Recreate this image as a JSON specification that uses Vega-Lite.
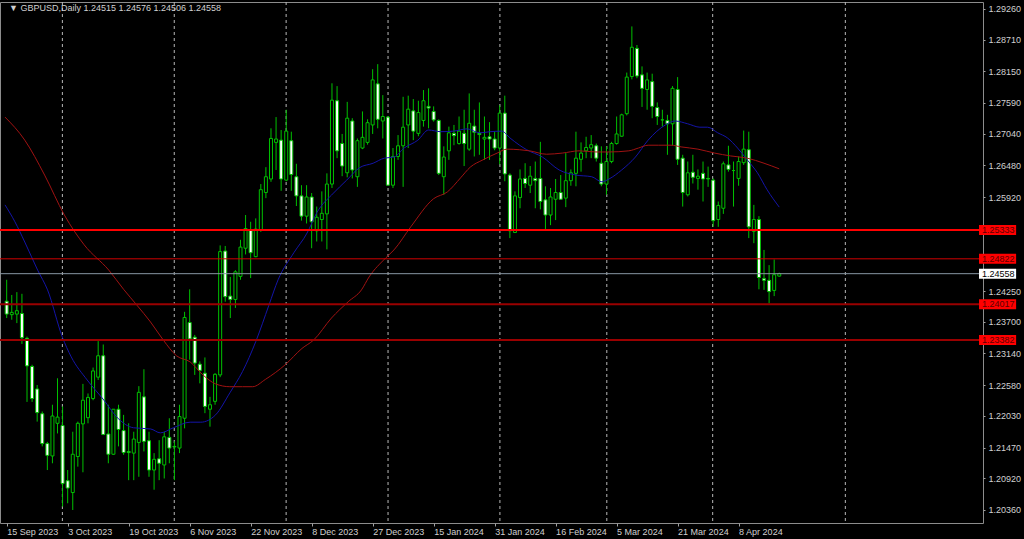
{
  "$schema": "https://vega.github.io/schema/vega-lite/v6.json",
  "width": 983,
  "height": 521,
  "autosize": {"type": "none"},
  "padding": {"left": 0, "top": 2, "right": 41, "bottom": 16},
  "background": "#000000",
  "config": {
    "view": {"stroke": "#8c8c8c", "strokeWidth": 1},
    "font": "Liberation Sans"
  },
  "resolve": {"axis": {"x": "independent", "y": "independent"}},
  "datasets": {
    "grid": [{"g": 10.96}, {"g": 32.97}, {"g": 54.98}, {"g": 75.03}, {"g": 97.04}, {"g": 118.07}, {"g": 138.9}, {"g": 165.0}],
    "levels": [
      {"p": 1.25333, "k": "a"},
      {"p": 1.24822, "k": "b"},
      {"p": 1.24558, "k": "cur"},
      {"p": 1.24017, "k": "c"},
      {"p": 1.23382, "k": "d"}
    ],
    "ma": [
      {"i": -0.33, "v": 1.2578, "m": "fast"}, {"i": 1.62, "v": 1.2548, "m": "fast"}, {"i": 3.56, "v": 1.2512, "m": "fast"}, {"i": 6.1, "v": 1.2462, "m": "fast"}, {"i": 8.04, "v": 1.2427, "m": "fast"}, {"i": 10.96, "v": 1.2343, "m": "fast"}, {"i": 12.7, "v": 1.2308, "m": "fast"}, {"i": 15.83, "v": 1.2267, "m": "fast"}, {"i": 19.14, "v": 1.2231, "m": "fast"}, {"i": 21.67, "v": 1.2201, "m": "fast"}, {"i": 24.98, "v": 1.2182, "m": "fast"}, {"i": 28.3, "v": 1.218, "m": "fast"}, {"i": 30.24, "v": 1.2173, "m": "fast"}, {"i": 32.77, "v": 1.2182, "m": "fast"}, {"i": 36.1, "v": 1.2192, "m": "fast"}, {"i": 38.2, "v": 1.2192, "m": "fast"}, {"i": 41.1, "v": 1.2205, "m": "fast"}, {"i": 43.9, "v": 1.2244, "m": "fast"}, {"i": 46.4, "v": 1.2282, "m": "fast"}, {"i": 49.0, "v": 1.2335, "m": "fast"}, {"i": 51.6, "v": 1.24, "m": "fast"}, {"i": 53.4, "v": 1.2445, "m": "fast"}, {"i": 56.5, "v": 1.2493, "m": "fast"}, {"i": 59.1, "v": 1.2528, "m": "fast"}, {"i": 61.0, "v": 1.2564, "m": "fast"}, {"i": 64.3, "v": 1.2599, "m": "fast"}, {"i": 66.9, "v": 1.2622, "m": "fast"}, {"i": 69.4, "v": 1.2644, "m": "fast"}, {"i": 72.1, "v": 1.2652, "m": "fast"}, {"i": 74.3, "v": 1.2661, "m": "fast"}, {"i": 76.2, "v": 1.2663, "m": "fast"}, {"i": 78.2, "v": 1.2679, "m": "fast"}, {"i": 80.9, "v": 1.2693, "m": "fast"}, {"i": 83.0, "v": 1.2711, "m": "fast"}, {"i": 85.4, "v": 1.2708, "m": "fast"}, {"i": 87.9, "v": 1.2709, "m": "fast"}, {"i": 90.6, "v": 1.2713, "m": "fast"}, {"i": 93.1, "v": 1.2706, "m": "fast"}, {"i": 95.1, "v": 1.2708, "m": "fast"}, {"i": 97.4, "v": 1.2709, "m": "fast"}, {"i": 99.0, "v": 1.2697, "m": "fast"}, {"i": 100.9, "v": 1.2684, "m": "fast"}, {"i": 102.3, "v": 1.2676, "m": "fast"}, {"i": 105.4, "v": 1.2663, "m": "fast"}, {"i": 108.7, "v": 1.264, "m": "fast"}, {"i": 112.0, "v": 1.2631, "m": "fast"}, {"i": 115.1, "v": 1.2628, "m": "fast"}, {"i": 117.1, "v": 1.2619, "m": "fast"}, {"i": 118.5, "v": 1.2624, "m": "fast"}, {"i": 121.0, "v": 1.264, "m": "fast"}, {"i": 123.7, "v": 1.2663, "m": "fast"}, {"i": 126.2, "v": 1.2693, "m": "fast"}, {"i": 129.6, "v": 1.272, "m": "fast"}, {"i": 131.5, "v": 1.2727, "m": "fast"}, {"i": 134.0, "v": 1.2722, "m": "fast"}, {"i": 136.4, "v": 1.2716, "m": "fast"}, {"i": 137.9, "v": 1.2716, "m": "fast"}, {"i": 139.9, "v": 1.2706, "m": "fast"}, {"i": 141.8, "v": 1.2697, "m": "fast"}, {"i": 143.8, "v": 1.2679, "m": "fast"}, {"i": 145.7, "v": 1.2658, "m": "fast"}, {"i": 147.7, "v": 1.2635, "m": "fast"}, {"i": 149.6, "v": 1.2605, "m": "fast"}, {"i": 152.0, "v": 1.2574, "m": "fast"},
      {"i": -0.33, "v": 1.2734, "m": "slow"}, {"i": 3.56, "v": 1.2693, "m": "slow"}, {"i": 7.46, "v": 1.2631, "m": "slow"}, {"i": 11.35, "v": 1.256, "m": "slow"}, {"i": 15.25, "v": 1.2507, "m": "slow"}, {"i": 20.1, "v": 1.2462, "m": "slow"}, {"i": 23.0, "v": 1.2428, "m": "slow"}, {"i": 25.6, "v": 1.24, "m": "slow"}, {"i": 28.3, "v": 1.237, "m": "slow"}, {"i": 30.8, "v": 1.2338, "m": "slow"}, {"i": 33.4, "v": 1.231, "m": "slow"}, {"i": 36.1, "v": 1.2299, "m": "slow"}, {"i": 38.6, "v": 1.2276, "m": "slow"}, {"i": 41.1, "v": 1.226, "m": "slow"}, {"i": 43.9, "v": 1.2255, "m": "slow"}, {"i": 46.4, "v": 1.2255, "m": "slow"}, {"i": 48.4, "v": 1.2255, "m": "slow"}, {"i": 50.9, "v": 1.2268, "m": "slow"}, {"i": 54.8, "v": 1.2294, "m": "slow"}, {"i": 58.1, "v": 1.2323, "m": "slow"}, {"i": 60.4, "v": 1.2338, "m": "slow"}, {"i": 63.9, "v": 1.2377, "m": "slow"}, {"i": 67.2, "v": 1.2406, "m": "slow"}, {"i": 69.8, "v": 1.2427, "m": "slow"}, {"i": 71.3, "v": 1.245, "m": "slow"}, {"i": 74.6, "v": 1.2484, "m": "slow"}, {"i": 76.2, "v": 1.2498, "m": "slow"}, {"i": 79.5, "v": 1.2539, "m": "slow"}, {"i": 84.0, "v": 1.2589, "m": "slow"}, {"i": 86.7, "v": 1.2601, "m": "slow"}, {"i": 89.3, "v": 1.2626, "m": "slow"}, {"i": 91.2, "v": 1.2645, "m": "slow"}, {"i": 93.7, "v": 1.2658, "m": "slow"}, {"i": 96.5, "v": 1.267, "m": "slow"}, {"i": 98.4, "v": 1.2677, "m": "slow"}, {"i": 100.9, "v": 1.2676, "m": "slow"}, {"i": 102.9, "v": 1.2674, "m": "slow"}, {"i": 106.2, "v": 1.2668, "m": "slow"}, {"i": 109.3, "v": 1.267, "m": "slow"}, {"i": 112.6, "v": 1.2674, "m": "slow"}, {"i": 115.9, "v": 1.2672, "m": "slow"}, {"i": 118.5, "v": 1.2672, "m": "slow"}, {"i": 122.4, "v": 1.2674, "m": "slow"}, {"i": 124.3, "v": 1.2679, "m": "slow"}, {"i": 126.2, "v": 1.2684, "m": "slow"}, {"i": 128.2, "v": 1.2684, "m": "slow"}, {"i": 130.7, "v": 1.2684, "m": "slow"}, {"i": 132.7, "v": 1.2681, "m": "slow"}, {"i": 136.0, "v": 1.2677, "m": "slow"}, {"i": 139.3, "v": 1.267, "m": "slow"}, {"i": 142.4, "v": 1.2665, "m": "slow"}, {"i": 145.7, "v": 1.2661, "m": "slow"}, {"i": 149.0, "v": 1.2652, "m": "slow"}, {"i": 152.0, "v": 1.2642, "m": "slow"}
    ],
    "candles": [
      {"i": 0, "o": 1.2407, "h": 1.2445, "l": 1.2377, "c": 1.2384},
      {"i": 1, "o": 1.2383, "h": 1.2418, "l": 1.2374, "c": 1.2387},
      {"i": 2, "o": 1.2384, "h": 1.2423, "l": 1.2368, "c": 1.239},
      {"i": 3, "o": 1.2385, "h": 1.242, "l": 1.2331, "c": 1.2342},
      {"i": 4, "o": 1.2341, "h": 1.2344, "l": 1.2228, "c": 1.2292},
      {"i": 5, "o": 1.2291, "h": 1.2294, "l": 1.2228, "c": 1.2234},
      {"i": 6, "o": 1.2251, "h": 1.2258, "l": 1.2193, "c": 1.2209},
      {"i": 7, "o": 1.2207, "h": 1.2211, "l": 1.2149, "c": 1.2154},
      {"i": 8, "o": 1.2154, "h": 1.2157, "l": 1.2107, "c": 1.2133},
      {"i": 9, "o": 1.2132, "h": 1.2223, "l": 1.2119, "c": 1.2203},
      {"i": 10, "o": 1.219, "h": 1.227, "l": 1.2172, "c": 1.2201},
      {"i": 11, "o": 1.2186, "h": 1.222, "l": 1.2042, "c": 1.2083},
      {"i": 12, "o": 1.2088, "h": 1.2107, "l": 1.2048, "c": 1.2075},
      {"i": 13, "o": 1.2067, "h": 1.2175, "l": 1.2036, "c": 1.2135},
      {"i": 14, "o": 1.2131, "h": 1.2193, "l": 1.2113, "c": 1.219},
      {"i": 15, "o": 1.2189, "h": 1.226, "l": 1.2103, "c": 1.2231},
      {"i": 16, "o": 1.22, "h": 1.2243, "l": 1.219, "c": 1.2236},
      {"i": 17, "o": 1.2234, "h": 1.2289, "l": 1.2231, "c": 1.2283},
      {"i": 18, "o": 1.2272, "h": 1.2336, "l": 1.2267, "c": 1.231},
      {"i": 19, "o": 1.231, "h": 1.233, "l": 1.217, "c": 1.217},
      {"i": 20, "o": 1.2171, "h": 1.2223, "l": 1.2119, "c": 1.2135},
      {"i": 21, "o": 1.2135, "h": 1.2215, "l": 1.2134, "c": 1.2215},
      {"i": 22, "o": 1.2215, "h": 1.2223, "l": 1.2149, "c": 1.2179},
      {"i": 23, "o": 1.2177, "h": 1.2205, "l": 1.2134, "c": 1.2138},
      {"i": 24, "o": 1.214, "h": 1.219, "l": 1.2089, "c": 1.2138},
      {"i": 25, "o": 1.2137, "h": 1.2175, "l": 1.2089, "c": 1.2162},
      {"i": 26, "o": 1.2156, "h": 1.2256, "l": 1.2095, "c": 1.2245},
      {"i": 27, "o": 1.2237, "h": 1.2286, "l": 1.214, "c": 1.2158},
      {"i": 28, "o": 1.2159, "h": 1.2175, "l": 1.2095, "c": 1.2107},
      {"i": 29, "o": 1.2107, "h": 1.2137, "l": 1.2072, "c": 1.2126},
      {"i": 30, "o": 1.2127, "h": 1.216, "l": 1.2089, "c": 1.2119},
      {"i": 31, "o": 1.2116, "h": 1.2175, "l": 1.2092, "c": 1.2166},
      {"i": 32, "o": 1.2165, "h": 1.2199, "l": 1.2119, "c": 1.2146},
      {"i": 33, "o": 1.2149, "h": 1.2158, "l": 1.2089, "c": 1.2148},
      {"i": 34, "o": 1.2146, "h": 1.2223, "l": 1.2137, "c": 1.2202},
      {"i": 35, "o": 1.2199, "h": 1.2388, "l": 1.2181, "c": 1.2378},
      {"i": 36, "o": 1.2369, "h": 1.2428, "l": 1.2303, "c": 1.234},
      {"i": 37, "o": 1.2343, "h": 1.2347, "l": 1.2276, "c": 1.2297},
      {"i": 38, "o": 1.2295, "h": 1.23, "l": 1.2261, "c": 1.2284},
      {"i": 39, "o": 1.2279, "h": 1.2307, "l": 1.2208, "c": 1.222},
      {"i": 40, "o": 1.2215, "h": 1.2237, "l": 1.2184, "c": 1.2223},
      {"i": 41, "o": 1.2229, "h": 1.2279, "l": 1.2223, "c": 1.2277},
      {"i": 42, "o": 1.2276, "h": 1.2506, "l": 1.2272, "c": 1.2495},
      {"i": 43, "o": 1.2496, "h": 1.2505, "l": 1.2406, "c": 1.2415},
      {"i": 44, "o": 1.2416, "h": 1.245, "l": 1.2377, "c": 1.241},
      {"i": 45, "o": 1.241, "h": 1.2462, "l": 1.2395, "c": 1.2459},
      {"i": 46, "o": 1.2451, "h": 1.2516, "l": 1.2445, "c": 1.2503},
      {"i": 47, "o": 1.2501, "h": 1.256, "l": 1.249, "c": 1.2536},
      {"i": 48, "o": 1.2534, "h": 1.2548, "l": 1.2448, "c": 1.2493},
      {"i": 49, "o": 1.2486, "h": 1.2554, "l": 1.2485, "c": 1.2535},
      {"i": 50, "o": 1.2534, "h": 1.2615, "l": 1.253, "c": 1.2605},
      {"i": 51, "o": 1.26, "h": 1.2645, "l": 1.259, "c": 1.2628},
      {"i": 52, "o": 1.2624, "h": 1.2714, "l": 1.2619, "c": 1.2696},
      {"i": 53, "o": 1.2689, "h": 1.2734, "l": 1.264, "c": 1.2695},
      {"i": 54, "o": 1.2693, "h": 1.2711, "l": 1.2603, "c": 1.2624},
      {"i": 55, "o": 1.2622, "h": 1.2747, "l": 1.262, "c": 1.2709},
      {"i": 56, "o": 1.2692, "h": 1.2708, "l": 1.2603, "c": 1.2632},
      {"i": 57, "o": 1.2628, "h": 1.2651, "l": 1.2576, "c": 1.2594},
      {"i": 58, "o": 1.2594, "h": 1.2613, "l": 1.255, "c": 1.2558},
      {"i": 59, "o": 1.2558, "h": 1.2613, "l": 1.2545, "c": 1.2592},
      {"i": 60, "o": 1.2592, "h": 1.2599, "l": 1.2501, "c": 1.2548},
      {"i": 61, "o": 1.2532, "h": 1.2575, "l": 1.2513, "c": 1.2556},
      {"i": 62, "o": 1.2552, "h": 1.2602, "l": 1.2513, "c": 1.2563},
      {"i": 63, "o": 1.2562, "h": 1.2634, "l": 1.2499, "c": 1.2615},
      {"i": 64, "o": 1.2615, "h": 1.2794, "l": 1.2608, "c": 1.2764},
      {"i": 65, "o": 1.2763, "h": 1.2789, "l": 1.2661, "c": 1.2674},
      {"i": 66, "o": 1.2687, "h": 1.2704, "l": 1.2629, "c": 1.2647},
      {"i": 67, "o": 1.2635, "h": 1.2761, "l": 1.2627, "c": 1.2732},
      {"i": 68, "o": 1.2727, "h": 1.2732, "l": 1.2625, "c": 1.264},
      {"i": 69, "o": 1.2628, "h": 1.2696, "l": 1.261, "c": 1.2692},
      {"i": 70, "o": 1.2679, "h": 1.2744, "l": 1.2677, "c": 1.2698},
      {"i": 71, "o": 1.2689, "h": 1.273, "l": 1.2685, "c": 1.2724},
      {"i": 72, "o": 1.272, "h": 1.2819, "l": 1.2704, "c": 1.28},
      {"i": 73, "o": 1.2793, "h": 1.2828, "l": 1.2714, "c": 1.273},
      {"i": 74, "o": 1.2727, "h": 1.2773, "l": 1.2696, "c": 1.2735},
      {"i": 75, "o": 1.2734, "h": 1.2736, "l": 1.2612, "c": 1.2613},
      {"i": 76, "o": 1.2613, "h": 1.2679, "l": 1.2608, "c": 1.2664},
      {"i": 77, "o": 1.2664, "h": 1.2702, "l": 1.2658, "c": 1.2683},
      {"i": 78, "o": 1.2683, "h": 1.277, "l": 1.261, "c": 1.2716},
      {"i": 79, "o": 1.272, "h": 1.2772, "l": 1.2679, "c": 1.2748},
      {"i": 80, "o": 1.2745, "h": 1.2766, "l": 1.2693, "c": 1.2709},
      {"i": 81, "o": 1.2705, "h": 1.2763, "l": 1.27, "c": 1.2742},
      {"i": 82, "o": 1.2728, "h": 1.2782, "l": 1.2717, "c": 1.2763},
      {"i": 83, "o": 1.2753, "h": 1.2785, "l": 1.2714, "c": 1.275},
      {"i": 84, "o": 1.2744, "h": 1.2753, "l": 1.2726, "c": 1.2729},
      {"i": 85, "o": 1.2728, "h": 1.273, "l": 1.2631, "c": 1.2634},
      {"i": 86, "o": 1.2628, "h": 1.2682, "l": 1.2596, "c": 1.2663},
      {"i": 87, "o": 1.2674, "h": 1.2717, "l": 1.2658, "c": 1.2706},
      {"i": 88, "o": 1.2705, "h": 1.272, "l": 1.2684, "c": 1.2701},
      {"i": 89, "o": 1.2687, "h": 1.2735, "l": 1.2685, "c": 1.2709},
      {"i": 90, "o": 1.2705, "h": 1.2747, "l": 1.2647, "c": 1.2687},
      {"i": 91, "o": 1.2677, "h": 1.2776, "l": 1.2674, "c": 1.2723},
      {"i": 92, "o": 1.2718, "h": 1.2747, "l": 1.2664, "c": 1.2707},
      {"i": 93, "o": 1.2705, "h": 1.276, "l": 1.2667, "c": 1.2703},
      {"i": 94, "o": 1.2695, "h": 1.2735, "l": 1.2658, "c": 1.2698},
      {"i": 95, "o": 1.2699, "h": 1.2725, "l": 1.2658, "c": 1.2695},
      {"i": 96, "o": 1.2695, "h": 1.2708, "l": 1.2675, "c": 1.2679},
      {"i": 97, "o": 1.2679, "h": 1.2755, "l": 1.265, "c": 1.2741},
      {"i": 98, "o": 1.2741, "h": 1.2772, "l": 1.262, "c": 1.2633},
      {"i": 99, "o": 1.2631, "h": 1.2634, "l": 1.2519, "c": 1.2532},
      {"i": 100, "o": 1.2529, "h": 1.2602, "l": 1.2528, "c": 1.2594},
      {"i": 101, "o": 1.2591, "h": 1.2641, "l": 1.2572, "c": 1.2624},
      {"i": 102, "o": 1.2625, "h": 1.2652, "l": 1.2608, "c": 1.2616},
      {"i": 103, "o": 1.2613, "h": 1.2647, "l": 1.2599, "c": 1.2629},
      {"i": 104, "o": 1.2625, "h": 1.2655, "l": 1.2572, "c": 1.2621},
      {"i": 105, "o": 1.2625, "h": 1.269, "l": 1.257, "c": 1.2584},
      {"i": 106, "o": 1.2587, "h": 1.2611, "l": 1.2532, "c": 1.256},
      {"i": 107, "o": 1.256, "h": 1.2608, "l": 1.2542, "c": 1.2592},
      {"i": 108, "o": 1.2588, "h": 1.2624, "l": 1.2551, "c": 1.26},
      {"i": 109, "o": 1.26, "h": 1.2631, "l": 1.2587, "c": 1.2588},
      {"i": 110, "o": 1.259, "h": 1.267, "l": 1.2574, "c": 1.2621},
      {"i": 111, "o": 1.2621, "h": 1.2641, "l": 1.2612, "c": 1.2635},
      {"i": 112, "o": 1.2634, "h": 1.2708, "l": 1.2611, "c": 1.2661},
      {"i": 113, "o": 1.2659, "h": 1.2689, "l": 1.2637, "c": 1.267},
      {"i": 114, "o": 1.2674, "h": 1.2699, "l": 1.2661, "c": 1.268},
      {"i": 115, "o": 1.2679, "h": 1.2702, "l": 1.2661, "c": 1.2685},
      {"i": 116, "o": 1.2683, "h": 1.2687, "l": 1.2655, "c": 1.2661},
      {"i": 117, "o": 1.2652, "h": 1.2682, "l": 1.2611, "c": 1.2615},
      {"i": 118, "o": 1.2615, "h": 1.2682, "l": 1.2596, "c": 1.2655},
      {"i": 119, "o": 1.2655, "h": 1.269, "l": 1.2652, "c": 1.2687},
      {"i": 120, "o": 1.2687, "h": 1.2735, "l": 1.2685, "c": 1.2704},
      {"i": 121, "o": 1.27, "h": 1.274, "l": 1.2699, "c": 1.2738},
      {"i": 122, "o": 1.274, "h": 1.2813, "l": 1.2737, "c": 1.2805},
      {"i": 123, "o": 1.2806, "h": 1.2895, "l": 1.2801, "c": 1.2858},
      {"i": 124, "o": 1.2856, "h": 1.2862, "l": 1.2803, "c": 1.2807},
      {"i": 125, "o": 1.2809, "h": 1.2824, "l": 1.2752, "c": 1.2785},
      {"i": 126, "o": 1.2783, "h": 1.2813, "l": 1.2747, "c": 1.28},
      {"i": 127, "o": 1.2797, "h": 1.2811, "l": 1.2732, "c": 1.2753},
      {"i": 128, "o": 1.2751, "h": 1.276, "l": 1.272, "c": 1.2735},
      {"i": 129, "o": 1.2729, "h": 1.2747, "l": 1.2717, "c": 1.2729},
      {"i": 130, "o": 1.2728, "h": 1.2738, "l": 1.2667, "c": 1.2722},
      {"i": 131, "o": 1.2722, "h": 1.2789, "l": 1.2684, "c": 1.2785},
      {"i": 132, "o": 1.2783, "h": 1.2805, "l": 1.2649, "c": 1.2659},
      {"i": 133, "o": 1.2661, "h": 1.2667, "l": 1.2575, "c": 1.26},
      {"i": 134, "o": 1.2596, "h": 1.2655, "l": 1.2593, "c": 1.2635},
      {"i": 135, "o": 1.2636, "h": 1.2667, "l": 1.2616, "c": 1.2627},
      {"i": 136, "o": 1.2625, "h": 1.2641, "l": 1.2605, "c": 1.2629},
      {"i": 137, "o": 1.2634, "h": 1.2655, "l": 1.2584, "c": 1.2624},
      {"i": 138, "o": 1.2625, "h": 1.2646, "l": 1.261, "c": 1.2624},
      {"i": 139, "o": 1.2622, "h": 1.2625, "l": 1.2539, "c": 1.255},
      {"i": 140, "o": 1.2552, "h": 1.2584, "l": 1.2539, "c": 1.2577},
      {"i": 141, "o": 1.2572, "h": 1.2655, "l": 1.2562, "c": 1.2651},
      {"i": 142, "o": 1.2649, "h": 1.2683, "l": 1.2637, "c": 1.2641},
      {"i": 143, "o": 1.2639, "h": 1.2655, "l": 1.2575, "c": 1.2639},
      {"i": 144, "o": 1.2625, "h": 1.2664, "l": 1.2612, "c": 1.2655},
      {"i": 145, "o": 1.2653, "h": 1.271, "l": 1.2649, "c": 1.2677},
      {"i": 146, "o": 1.2676, "h": 1.2708, "l": 1.2519, "c": 1.2539},
      {"i": 147, "o": 1.2531, "h": 1.2578, "l": 1.251, "c": 1.2552},
      {"i": 148, "o": 1.2552, "h": 1.2558, "l": 1.2428, "c": 1.2449},
      {"i": 149, "o": 1.2447, "h": 1.2498, "l": 1.2427, "c": 1.2444},
      {"i": 150, "o": 1.2444, "h": 1.2471, "l": 1.2403, "c": 1.2424},
      {"i": 151, "o": 1.2426, "h": 1.2481, "l": 1.2416, "c": 1.2454},
      {"i": 152, "o": 1.24515, "h": 1.24576, "l": 1.24506, "c": 1.24558}
    ]
  },
  "layer": [
    {
      "data": {"name": "grid"},
      "mark": {"type": "rule", "color": "#b8b8b8", "strokeWidth": 1, "strokeDash": [3, 3]},
      "encoding": {
        "x": {"field": "g", "type": "quantitative", "scale": {"domain": [-0.331, 191.1], "nice": false, "zero": false}, "axis": null}
      }
    },
    {
      "data": {"name": "candles"},
      "mark": {"type": "rule", "color": "#00c000", "strokeWidth": 1},
      "encoding": {
        "x": {
          "field": "i", "type": "quantitative",
          "scale": {"domain": [-0.331, 191.1], "nice": false, "zero": false},
          "axis": {
            "orient": "bottom",
            "values": [0, 12, 24, 36, 48, 60, 72, 84, 96, 108, 120, 132, 144],
            "labelExpr": "datum.value == 0 ? '15 Sep 2023' : datum.value == 12 ? '3 Oct 2023' : datum.value == 24 ? '19 Oct 2023' : datum.value == 36 ? '6 Nov 2023' : datum.value == 48 ? '22 Nov 2023' : datum.value == 60 ? '8 Dec 2023' : datum.value == 72 ? '27 Dec 2023' : datum.value == 84 ? '15 Jan 2024' : datum.value == 96 ? '31 Jan 2024' : datum.value == 108 ? '16 Feb 2024' : datum.value == 120 ? '5 Mar 2024' : datum.value == 132 ? '21 Mar 2024' : '8 Apr 2024'",
            "labelAlign": "left",
            "labelBaseline": "top",
            "labelColor": "#d0d0d0",
            "labelFont": "Liberation Sans",
            "labelFontSize": 9,
            "labelPadding": 1,
            "labelOverlap": false,
            "labelFlush": false,
            "labelBound": false,
            "tickColor": "#a0a0a0",
            "tickSize": 3,
            "domain": false,
            "grid": false,
            "title": null
          }
        },
        "y": {
          "field": "l", "type": "quantitative",
          "scale": {"domain": [1.20129, 1.29384], "nice": false, "zero": false},
          "axis": {
            "orient": "right",
            "values": [1.2926, 1.2871, 1.2815, 1.2759, 1.2704, 1.2648, 1.2592, 1.2425, 1.237, 1.2314, 1.2258, 1.2203, 1.2147, 1.2092, 1.2036],
            "format": ".5f",
            "labelColor": "#d0d0d0",
            "labelFont": "Liberation Sans",
            "labelFontSize": 9,
            "labelPadding": 3,
            "labelBaseline": "middle",
            "labelOverlap": false,
            "labelFlush": false,
            "labelBound": false,
            "tickColor": "#a0a0a0",
            "tickSize": 2,
            "domain": false,
            "grid": false,
            "title": null
          }
        },
        "y2": {"field": "h"}
      }
    },
    {
      "data": {"name": "candles"},
      "mark": {"type": "bar", "width": 3, "stroke": "#00c000", "strokeWidth": 1},
      "encoding": {
        "x": {"field": "i", "type": "quantitative", "scale": {"domain": [-0.331, 191.1], "nice": false, "zero": false}, "axis": null},
        "y": {"field": "o", "type": "quantitative", "scale": {"domain": [1.20129, 1.29384], "nice": false, "zero": false}, "axis": null},
        "y2": {"field": "c"},
        "fill": {"condition": {"test": "datum.c < datum.o", "value": "#ffffff"}, "value": "#000000"}
      }
    },
    {
      "data": {"name": "ma"},
      "mark": {"type": "line", "strokeWidth": 1, "interpolate": "monotone"},
      "encoding": {
        "x": {"field": "i", "type": "quantitative", "scale": {"domain": [-0.331, 191.1], "nice": false, "zero": false}, "axis": null},
        "y": {"field": "v", "type": "quantitative", "scale": {"domain": [1.20129, 1.29384], "nice": false, "zero": false}, "axis": null},
        "color": {"field": "m", "type": "nominal", "scale": {"domain": ["fast", "slow"], "range": ["#1414a8", "#a01212"]}, "legend": null}
      }
    },
    {
      "data": {"name": "levels"},
      "mark": {"type": "rule"},
      "encoding": {
        "y": {"field": "p", "type": "quantitative", "scale": {"domain": [1.20129, 1.29384], "nice": false, "zero": false}, "axis": null},
        "color": {"condition": [
          {"test": "datum.k == 'a'", "value": "#ff0000"},
          {"test": "datum.k == 'b'", "value": "#d00000"},
          {"test": "datum.k == 'cur'", "value": "#8896a4"}
        ], "value": "#9a0000"},
        "strokeWidth": {"condition": [
          {"test": "datum.k == 'a'", "value": 2},
          {"test": "datum.k == 'b'", "value": 1},
          {"test": "datum.k == 'cur'", "value": 1}
        ], "value": 2}
      }
    },
    {
      "data": {"name": "levels"},
      "mark": {"type": "rule", "strokeWidth": 10, "strokeCap": "butt"},
      "encoding": {
        "x": {"datum": 191.3, "type": "quantitative", "scale": {"domain": [-0.331, 191.1], "nice": false, "zero": false}, "axis": null},
        "x2": {"datum": 198.6},
        "y": {"field": "p", "type": "quantitative", "scale": {"domain": [1.20129, 1.29384], "nice": false, "zero": false}, "axis": null},
        "color": {"condition": {"test": "datum.k == 'cur'", "value": "#ffffff"}, "value": "#ff0000"}
      }
    },
    {
      "data": {"name": "levels"},
      "mark": {"type": "text", "align": "left", "baseline": "middle", "dx": 3, "font": "Liberation Sans", "fontSize": 9},
      "encoding": {
        "x": {"datum": 191.3, "type": "quantitative", "scale": {"domain": [-0.331, 191.1], "nice": false, "zero": false}, "axis": null},
        "y": {"field": "p", "type": "quantitative", "scale": {"domain": [1.20129, 1.29384], "nice": false, "zero": false}, "axis": null},
        "text": {"field": "p", "type": "quantitative", "format": ".5f"},
        "color": {"condition": {"test": "datum.k == 'cur'", "value": "#000000"}, "value": "#5a0000"}
      }
    },
    {
      "data": {"values": [{"t": "▼ GBPUSD,Daily  1.24515 1.24576 1.24506 1.24558"}]},
      "mark": {"type": "text", "align": "left", "baseline": "middle", "dx": 4, "dy": 6, "font": "Liberation Sans", "fontSize": 9, "color": "#d0d0d0"},
      "encoding": {
        "x": {"datum": -0.331, "type": "quantitative", "scale": {"domain": [-0.331, 191.1], "nice": false, "zero": false}, "axis": null},
        "y": {"datum": 1.29384, "type": "quantitative", "scale": {"domain": [1.20129, 1.29384], "nice": false, "zero": false}, "axis": null},
        "text": {"field": "t"}
      }
    }
  ]
}
